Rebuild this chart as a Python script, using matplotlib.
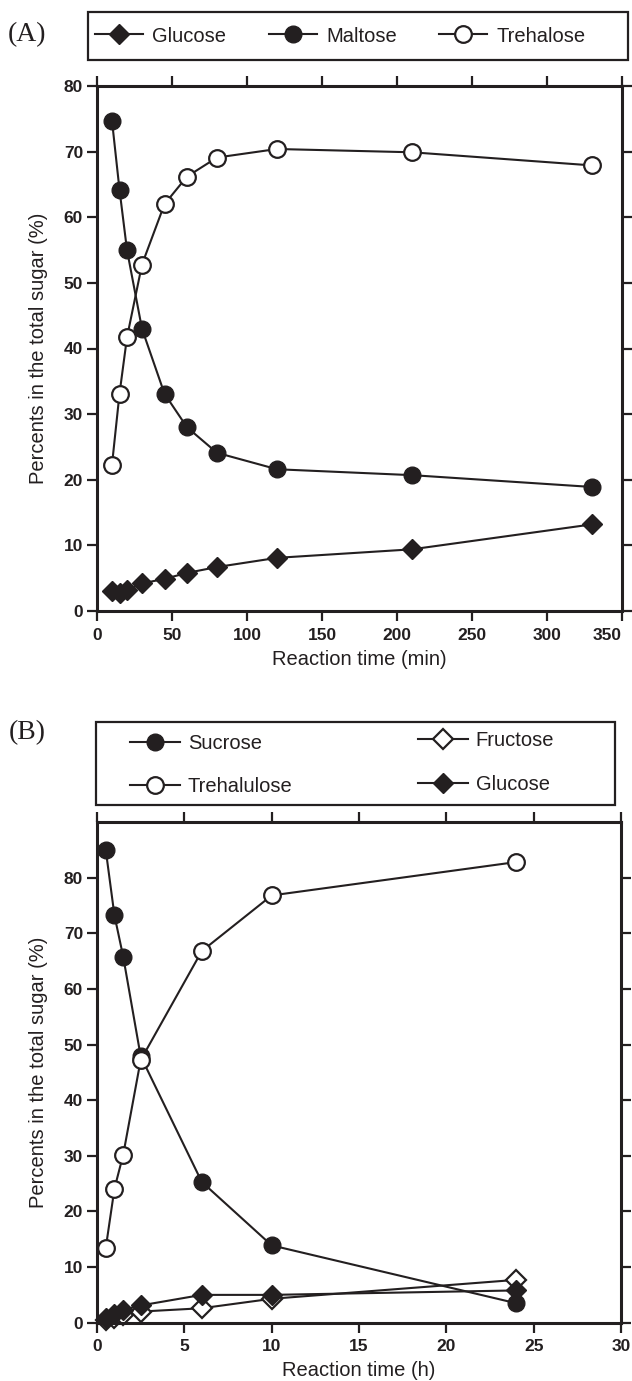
import matplotlib
matplotlib.use("Agg")
import matplotlib.pyplot as plt
from matplotlib.patches import Rectangle

# ---------------- data ----------------
time_a = [10, 15, 20, 30, 45, 60, 80, 120, 210, 330]
glucose_a = [3.1, 2.7, 3.2, 4.2, 4.9, 5.8, 6.7, 8.1, 9.4, 13.2]
maltose_a = [74.7, 64.2, 55.0, 43.0, 33.1, 28.0, 24.1, 21.6, 20.7, 18.9]
trehalose_a = [22.3, 33.1, 41.7, 52.8, 62.0, 66.2, 69.1, 70.4, 69.9, 67.9]

time_b = [0.5, 1, 1.5, 2.5, 6, 10, 24]
sucrose_b = [85.0, 73.2, 65.8, 47.9, 25.3, 13.9, 3.5]
trehalulose_b = [13.4, 24.1, 30.2, 47.2, 66.8, 76.8, 82.8]
fructose_b = [0.4, 0.8, 1.3, 2.0, 2.6, 4.3, 7.7]
glucose_b = [0.8, 1.6, 2.3, 3.1, 5.0, 5.0, 5.8]

xticks_a = [0, 50, 100, 150, 200, 250, 300, 350]
yticks_a = [0, 10, 20, 30, 40, 50, 60, 70, 80]
xticks_b = [0, 5, 10, 15, 20, 25, 30]
yticks_b = [0, 10, 20, 30, 40, 50, 60, 70, 80]

# ---------------- style ----------------
INK = "#231f20"
W, H = 632, 1381
plt.rcParams["font.family"] = ["Liberation Sans", "DejaVu Sans"]

fig = plt.figure(figsize=(W / 100, H / 100), dpi=100)


def fx(px):
    return px / W


def fy(py):
    return 1 - py / H


LBL = 14.5
TICK = 12.5
LW = 1.5
MS_C = 12
MS_D = 10


def style_axes(ax, xt, yt, xlim, ylim, xlabel):
    ax.set_xlim(*xlim)
    ax.set_ylim(*ylim)
    for s in ax.spines.values():
        s.set_linewidth(2.2)
        s.set_color(INK)
    ax.set_xticks(xt)
    ax.set_yticks(yt)
    ax.tick_params(axis="both", which="major", direction="out", length=7,
                   width=1.6, color=INK, labelsize=TICK, labelcolor=INK,
                   top=True, right=True, labeltop=False, labelright=False)
    ax.tick_params(axis="x", pad=5)
    ax.tick_params(axis="y", pad=3)
    for lab in ax.get_xticklabels() + ax.get_yticklabels():
        lab.set_fontweight("bold")
    ax.set_xlabel(xlabel, fontsize=LBL, color=INK, labelpad=5)
    ax.set_ylabel("Percents in the total sugar (%)", fontsize=LBL, color=INK,
                  labelpad=11)


# ---------------- panel A ----------------
axA = fig.add_axes([fx(97), fy(611), fx(525), 525 / H])
lg, = axA.plot(time_a, glucose_a, "-", color=INK, lw=LW, marker="D", ms=MS_D,
               mfc=INK, mec=INK, clip_on=False, label="Glucose")
lm, = axA.plot(time_a, maltose_a, "-", color=INK, lw=LW, marker="o", ms=MS_C,
               mfc=INK, mec=INK, clip_on=False, label="Maltose")
lt, = axA.plot(time_a, trehalose_a, "-", color=INK, lw=LW, marker="o", ms=MS_C,
               mfc="white", mec=INK, mew=1.6, clip_on=False, label="Trehalose")
style_axes(axA, xticks_a, yticks_a, (0, 350), (0, 80), "Reaction time (min)")
axA.get_xticklabels()[-1].set_horizontalalignment("right")

fig.add_artist(Rectangle((fx(88), fy(60)), fx(540), 48 / H,
                         transform=fig.transFigure, fill=False,
                         edgecolor=INK, lw=1.6))
legA = fig.legend(handles=[lg, lm, lt], loc="center left",
                  bbox_to_anchor=(fx(95), fy(36)), ncol=3, frameon=False,
                  fontsize=LBL, handlelength=2.4, handletextpad=0.45,
                  columnspacing=2.1, borderpad=0, borderaxespad=0)
for t in legA.get_texts():
    t.set_color(INK)

fig.text(fx(27), fy(35), "(A)", fontsize=20, family="Liberation Serif",
         ha="center", va="center", color=INK)

# ---------------- panel B ----------------
axB = fig.add_axes([fx(97), fy(1322.7), fx(524), 500.7 / H])
ls, = axB.plot(time_b, sucrose_b, "-", color=INK, lw=LW, marker="o", ms=MS_C,
               mfc=INK, mec=INK, clip_on=False, label="Sucrose")
ltu, = axB.plot(time_b, trehalulose_b, "-", color=INK, lw=LW, marker="o",
                ms=MS_C, mfc="white", mec=INK, mew=1.6, clip_on=False,
                label="Trehalulose")
lf, = axB.plot(time_b, fructose_b, "-", color=INK, lw=LW, marker="D", ms=MS_D,
               mfc="white", mec=INK, mew=1.6, clip_on=False, label="Fructose")
lgb, = axB.plot(time_b, glucose_b, "-", color=INK, lw=LW, marker="D", ms=MS_D,
                mfc=INK, mec=INK, clip_on=False, label="Glucose")
style_axes(axB, xticks_b, yticks_b, (0, 30), (0, 90), "Reaction time (h)")

fig.add_artist(Rectangle((fx(96), fy(805)), fx(519), 83 / H,
                         transform=fig.transFigure, fill=False,
                         edgecolor=INK, lw=1.6))
legB1 = fig.legend(handles=[ls, ltu], loc="center left",
                   bbox_to_anchor=(fx(130), fy(765)), ncol=1, frameon=False,
                   fontsize=LBL, handlelength=2.5, handletextpad=0.37,
                   labelspacing=1.2, borderpad=0, borderaxespad=0)
legB2 = fig.legend(handles=[lf, lgb], loc="center left",
                   bbox_to_anchor=(fx(418), fy(762.5)), ncol=1, frameon=False,
                   fontsize=LBL, handlelength=2.5, handletextpad=0.37,
                   labelspacing=1.2, borderpad=0, borderaxespad=0)
for L in (legB1, legB2):
    for t in L.get_texts():
        t.set_color(INK)

fig.text(fx(27), fy(733), "(B)", fontsize=20, family="Liberation Serif",
         ha="center", va="center", color=INK)

fig.savefig("out.png", dpi=100)
